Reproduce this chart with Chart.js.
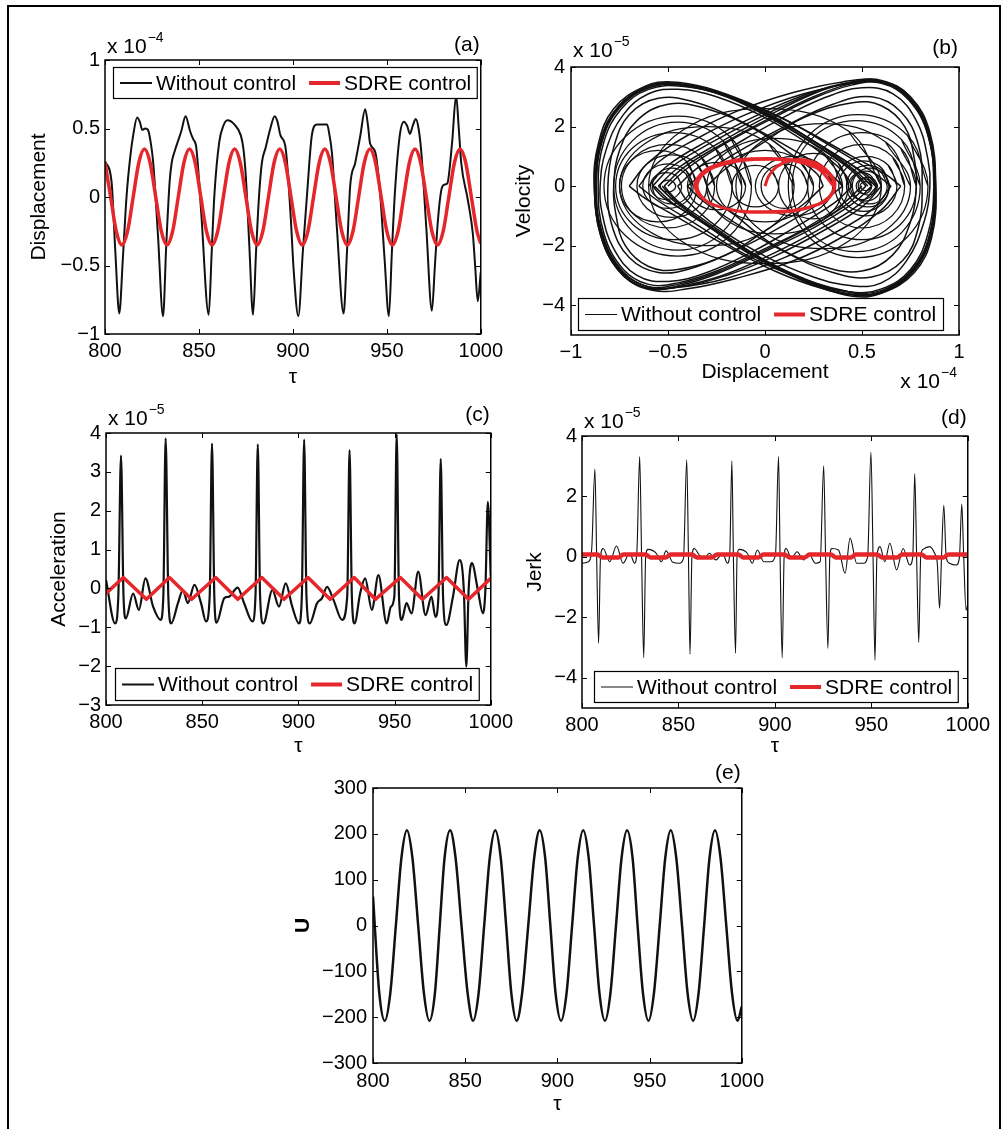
<!DOCTYPE html>
<html><head><meta charset="utf-8">
<script src="https://cdn.jsdelivr.net/npm/chart.js@4.4.1/dist/chart.umd.min.js"></script>
<style>
html,body{margin:0;padding:0;background:#fff;}
body{width:1004px;height:1129px;position:relative;overflow:hidden;}
#frame{position:absolute;left:7px;top:5px;width:990px;height:1200px;border:2px solid #000;border-bottom:none;}
canvas{position:absolute;}
</style></head><body>
<div id="frame"></div>
<canvas id="ca" width="488" height="360" style="left:20px;top:30px"></canvas>
<canvas id="cb" width="490" height="365" style="left:500px;top:30px"></canvas>
<canvas id="cc" width="498" height="375" style="left:20px;top:385px"></canvas>
<canvas id="cd" width="495" height="375" style="left:500px;top:385px"></canvas>
<canvas id="ce" width="490" height="375" style="left:280px;top:750px"></canvas>
<script>
// ---------------- DATA ----------------
const seriesNames = ['Without control', 'SDRE control'];
const tauTicks = [800, 850, 900, 950, 1000];
const aYTicks = [-1, -0.5, 0, 0.5, 1];
const bXTicks = [-1, -0.5, 0, 0.5, 1];
const bYTicks = [-4, -2, 0, 2, 4];
const cYTicks = [-3, -2, -1, 0, 1, 2, 3, 4];
const dYTicks = [-4, -2, 0, 2, 4];
const eYTicks = [-300, -200, -100, 0, 100, 200, 300];

// (a) displacement (x 1e-4) vs tau
const aWithout = [[800,0.26],[803.5,0.11],[805.5,-0.4],[807.6,-0.85],[809.5,-0.45],[811.5,0.01],[813.5,0.3],[815,0.45],[817.1,0.58],[818.5,0.55],[819.9,0.49],[821.5,0.5],[822.9,0.49],[824.3,0.4],[825.6,0.26],[828.2,-0.28],[830.9,-0.87],[832.6,-0.35],[834.4,0.11],[835.5,0.25],[837,0.33],[840.6,0.48],[842.9,0.59],[845.3,0.48],[847,0.42],[848.5,0.37],[851.2,-0.11],[855.2,-0.86],[856.8,-0.4],[858.2,0.01],[860.8,0.4],[863,0.52],[865.2,0.56],[868.8,0.53],[872.3,0.45],[873.7,0.35],[875,0.14],[876.8,-0.35],[878.8,-0.86],[880.4,-0.4],[882,0.01],[883.5,0.25],[885.5,0.36],[888,0.5],[890.3,0.59],[891.8,0.55],[893.4,0.45],[896.1,0.36],[898.7,-0.11],[900.5,-0.55],[902.9,-0.87],[905.3,-0.4],[907.6,0.03],[910.2,0.46],[912.9,0.53],[915.5,0.53],[918.2,0.53],[919.5,0.45],[920.8,0.32],[923.4,-0.22],[927,-0.85],[928.8,-0.4],[930.5,0.08],[933.2,0.25],[935.8,0.44],[938.5,0.64],[940,0.52],[941.1,0.39],[943.8,0.33],[946.4,0.03],[948.8,-0.45],[951.1,-0.87],[952.7,-0.4],[954.3,0.03],[957,0.46],[959.1,0.55],[960.8,0.52],[962.3,0.46],[963.8,0.52],[965.4,0.57],[966.9,0.5],[968.4,0.32],[971,-0.22],[974,-0.83],[975.6,-0.5],[977.2,-0.17],[979,0.05],[980.6,0.09],[982.2,0.1],[984.7,0.39],[986.9,0.74],[988.3,0.5],[989.6,0.25],[993.1,-0.02],[995.8,-0.27],[997,-0.5],[998.4,-0.76],[1000,-0.55]];
const aSdre = [[800,0.25],[803,0],[806,-0.25],[809,-0.35],[812,-0.25],[815,0],[818,0.25],[821,0.35],[824,0.25],[827,0],[830,-0.25],[833,-0.35],[836,-0.25],[839,0],[842,0.25],[845,0.35],[848,0.25],[851,0],[854,-0.25],[857,-0.35],[860,-0.25],[863,0],[866,0.25],[869,0.35],[872,0.25],[875,0],[878,-0.25],[881,-0.35],[884,-0.25],[887,0],[890,0.25],[893,0.35],[896,0.25],[899,0],[902,-0.25],[905,-0.35],[908,-0.25],[911,0],[914,0.25],[917,0.35],[920,0.25],[923,0],[926,-0.25],[929,-0.35],[932,-0.25],[935,0],[938,0.25],[941,0.35],[944,0.25],[947,0],[950,-0.25],[953,-0.35],[956,-0.25],[959,0],[962,0.25],[965,0.35],[968,0.25],[971,0],[974,-0.25],[977,-0.35],[980,-0.25],[983,0],[986,0.25],[989,0.35],[992,0.25],[995,0],[998,-0.25],[1000,-0.34]];

// (b) phase portrait: displacement (x 1e-4), velocity (x 1e-5)
const bLeftLobes = [
 [[0.55,0],[0.45,-0.6],[0.25,-1.4],[0,-2.2],[-0.25,-2.95],[-0.45,-3.35],[-0.6,-3.45],[-0.74,-2.9],[-0.84,-1.7],[-0.88,0],[-0.85,1.5],[-0.76,2.65],[-0.6,3.35],[-0.45,3.45],[-0.25,3.15],[0,2.5],[0.25,1.5],[0.45,0.6],[0.55,0]],
 [[0.5,0],[0.4,-0.6],[0.2,-1.45],[0,-2.1],[-0.25,-2.85],[-0.45,-3.25],[-0.6,-3.3],[-0.73,-2.8],[-0.83,-1.6],[-0.86,0],[-0.83,1.5],[-0.74,2.6],[-0.6,3.25],[-0.43,3.35],[-0.2,3.0],[0.05,2.2],[0.3,1.2],[0.45,0.5],[0.52,0]],
 [[0.6,0],[0.5,-0.7],[0.3,-1.5],[0.05,-2.35],[-0.2,-3.0],[-0.45,-3.4],[-0.62,-3.35],[-0.76,-2.7],[-0.85,-1.4],[-0.87,0],[-0.84,1.6],[-0.74,2.75],[-0.58,3.4],[-0.4,3.35],[-0.15,2.9],[0.1,2.1],[0.35,1.1],[0.52,0.4],[0.58,0]],
 [[0.4,0],[0.3,-0.5],[0.1,-1.3],[-0.1,-2.0],[-0.35,-2.7],[-0.55,-2.9],[-0.7,-2.4],[-0.79,-1.3],[-0.81,0],[-0.78,1.3],[-0.7,2.4],[-0.55,2.95],[-0.35,2.8],[-0.1,2.1],[0.15,1.2],[0.32,0.5],[0.4,0]],
 [[0.7,0],[0.6,-0.8],[0.4,-1.7],[0.15,-2.5],[-0.15,-3.1],[-0.4,-3.45],[-0.58,-3.5],[-0.73,-3.0],[-0.84,-1.8],[-0.88,0],[-0.86,1.4],[-0.78,2.6],[-0.62,3.35],[-0.48,3.5],[-0.3,3.3],[-0.05,2.7],[0.2,1.9],[0.45,1.0],[0.62,0.4],[0.7,0]],
 [[0.45,0],[0.35,-0.6],[0.15,-1.4],[-0.05,-2.15],[-0.3,-2.9],[-0.5,-3.2],[-0.66,-3.0],[-0.78,-2.1],[-0.84,-0.9],[-0.85,0],[-0.82,1.2],[-0.73,2.4],[-0.6,3.1],[-0.45,3.25],[-0.25,3.0],[0,2.3],[0.25,1.3],[0.4,0.5],[0.45,0]],
 [[0.65,0],[0.55,-0.8],[0.35,-1.6],[0.1,-2.4],[-0.2,-3.1],[-0.45,-3.4],[-0.62,-3.4],[-0.76,-2.8],[-0.85,-1.5],[-0.87,0],[-0.84,1.5],[-0.75,2.7],[-0.6,3.3],[-0.43,3.4],[-0.2,3.05],[0.1,2.25],[0.35,1.3],[0.55,0.5],[0.65,0]],
 [[0.3,0],[0.2,-0.6],[0,-1.5],[-0.2,-2.3],[-0.45,-2.8],[-0.6,-2.7],[-0.72,-2.0],[-0.77,-0.9],[-0.78,0],[-0.75,1.2],[-0.66,2.2],[-0.5,2.75],[-0.3,2.6],[-0.05,1.9],[0.15,1.0],[0.27,0.4],[0.3,0]],
 [[0.58,0],[0.48,-0.65],[0.28,-1.45],[0.03,-2.3],[-0.22,-3.0],[-0.45,-3.38],[-0.61,-3.42],[-0.75,-2.85],[-0.85,-1.6],[-0.875,0],[-0.845,1.55],[-0.75,2.7],[-0.59,3.38],[-0.44,3.42],[-0.22,3.1],[0.03,2.35],[0.28,1.4],[0.48,0.55],[0.57,0]],
 [[0.52,0],[0.42,-0.62],[0.22,-1.42],[0,-2.15],[-0.25,-2.9],[-0.45,-3.3],[-0.6,-3.38],[-0.735,-2.85],[-0.835,-1.65],[-0.87,0],[-0.84,1.52],[-0.75,2.62],[-0.6,3.3],[-0.44,3.4],[-0.22,3.08],[0.02,2.35],[0.27,1.35],[0.45,0.55],[0.53,0]]
];
const bRightLobes = [
 [[-0.55,0],[-0.45,0.6],[-0.25,1.4],[0,2.3],[0.25,3.1],[0.45,3.5],[0.6,3.55],[0.75,3.0],[0.85,1.8],[0.88,0],[0.86,-1.7],[0.77,-2.9],[0.6,-3.6],[0.45,-3.7],[0.25,-3.3],[0,-2.55],[-0.25,-1.5],[-0.45,-0.6],[-0.55,0]],
 [[-0.5,0],[-0.4,0.6],[-0.2,1.45],[0,2.15],[0.25,2.95],[0.45,3.4],[0.6,3.45],[0.74,2.9],[0.84,1.7],[0.87,0],[0.85,-1.6],[0.76,-2.8],[0.6,-3.5],[0.43,-3.55],[0.2,-3.1],[-0.05,-2.3],[-0.3,-1.2],[-0.45,-0.5],[-0.52,0]],
 [[-0.6,0],[-0.5,0.7],[-0.3,1.5],[-0.05,2.35],[0.2,3.05],[0.45,3.5],[0.62,3.45],[0.76,2.8],[0.85,1.5],[0.87,0],[0.85,-1.7],[0.76,-2.9],[0.58,-3.6],[0.4,-3.5],[0.15,-3.0],[-0.1,-2.2],[-0.35,-1.1],[-0.52,-0.4],[-0.58,0]],
 [[-0.4,0],[-0.3,0.5],[-0.1,1.3],[0.1,2.0],[0.35,2.75],[0.55,3.0],[0.7,2.5],[0.79,1.4],[0.81,0],[0.79,-1.4],[0.71,-2.5],[0.55,-3.05],[0.35,-2.9],[0.1,-2.2],[-0.15,-1.25],[-0.32,-0.5],[-0.4,0]],
 [[-0.7,0],[-0.6,0.8],[-0.4,1.7],[-0.15,2.5],[0.15,3.15],[0.4,3.5],[0.58,3.55],[0.73,3.05],[0.84,1.9],[0.88,0],[0.86,-1.5],[0.78,-2.7],[0.62,-3.5],[0.48,-3.65],[0.3,-3.45],[0.05,-2.85],[-0.2,-2.0],[-0.45,-1.05],[-0.62,-0.4],[-0.7,0]],
 [[-0.45,0],[-0.35,0.6],[-0.15,1.4],[0.05,2.15],[0.3,2.95],[0.5,3.3],[0.66,3.1],[0.78,2.2],[0.84,0.9],[0.85,0],[0.82,-1.2],[0.73,-2.5],[0.6,-3.25],[0.45,-3.35],[0.25,-3.05],[0,-2.35],[-0.25,-1.35],[-0.4,-0.5],[-0.45,0]],
 [[-0.65,0],[-0.55,0.8],[-0.35,1.6],[-0.1,2.4],[0.2,3.1],[0.45,3.45],[0.62,3.45],[0.76,2.85],[0.85,1.5],[0.87,0],[0.84,-1.6],[0.75,-2.8],[0.6,-3.45],[0.43,-3.55],[0.2,-3.15],[-0.1,-2.3],[-0.35,-1.3],[-0.55,-0.5],[-0.65,0]],
 [[-0.3,0],[-0.2,0.6],[0,1.5],[0.2,2.3],[0.45,2.8],[0.6,2.7],[0.72,2.0],[0.77,0.9],[0.78,0],[0.75,-1.2],[0.66,-2.3],[0.5,-2.85],[0.3,-2.7],[0.05,-2.0],[-0.15,-1.0],[-0.27,-0.4],[-0.3,0]],
 [[-0.58,0],[-0.48,0.65],[-0.28,1.45],[-0.03,2.3],[0.22,3.05],[0.45,3.5],[0.6,3.52],[0.75,2.95],[0.85,1.65],[0.875,0],[0.85,-1.6],[0.76,-2.8],[0.6,-3.55],[0.44,-3.62],[0.22,-3.2],[-0.03,-2.4],[-0.28,-1.4],[-0.48,-0.55],[-0.57,0]],
 [[-0.52,0],[-0.42,0.62],[-0.22,1.42],[0,2.2],[0.25,3.0],[0.45,3.45],[0.6,3.5],[0.745,2.95],[0.845,1.7],[0.875,0],[0.855,-1.65],[0.765,-2.85],[0.6,-3.58],[0.44,-3.65],[0.22,-3.25],[-0.02,-2.45],[-0.27,-1.4],[-0.45,-0.55],[-0.53,0]]
];
const bLeftWell = [
 [[-0.46,0],[-0.472,0.14],[-0.5,0.2],[-0.528,0.14],[-0.54,0],[-0.528,-0.14],[-0.5,-0.2],[-0.472,-0.14]],
 [[-0.43,0],[-0.453,0.32],[-0.51,0.45],[-0.567,0.32],[-0.59,0],[-0.567,-0.32],[-0.51,-0.45],[-0.453,-0.32]],
 [[-0.38,0],[-0.409,0.42],[-0.48,0.6],[-0.551,0.42],[-0.58,0],[-0.551,-0.42],[-0.48,-0.6],[-0.409,-0.42]],
 [[-0.37,0],[-0.408,0.53],[-0.5,0.75],[-0.592,0.53],[-0.63,0],[-0.592,-0.53],[-0.5,-0.75],[-0.408,-0.53]],
 [[-0.3,0],[-0.352,0.75],[-0.48,1.05],[-0.608,0.75],[-0.66,0],[-0.608,-0.75],[-0.48,-1.05],[-0.352,-0.75]],
 [[-0.26,0],[-0.33,0.99],[-0.5,1.4],[-0.67,0.99],[-0.74,0],[-0.67,-0.99],[-0.5,-1.4],[-0.33,-0.99]],
 [[-0.17,0],[-0.257,1.28],[-0.47,1.8],[-0.683,1.28],[-0.77,0],[-0.683,-1.28],[-0.47,-1.8],[-0.257,-1.28]],
 [[-0.12,0],[-0.216,1.52],[-0.45,2.15],[-0.684,1.52],[-0.78,0],[-0.684,-1.52],[-0.45,-2.15],[-0.216,-1.52]],
 [[-0.07,0],[-0.18,1.66],[-0.45,2.35],[-0.72,1.66],[-0.83,0],[-0.72,-1.66],[-0.45,-2.35],[-0.18,-1.66]],
 [[-0.35,0],[-0.408,0.85],[-0.55,1.2],[-0.692,0.85],[-0.75,0],[-0.692,-0.85],[-0.55,-1.2],[-0.408,-0.85]]
];
const bRightWell = [
 [[0.55,0],[0.541,0.106],[0.52,0.15],[0.499,0.106],[0.49,0],[0.499,-0.106],[0.52,-0.15],[0.541,-0.106]],
 [[0.55,0],[0.538,0.18],[0.51,0.25],[0.482,0.18],[0.47,0],[0.482,-0.18],[0.51,-0.25],[0.538,-0.18]],
 [[0.58,0],[0.565,0.21],[0.53,0.3],[0.495,0.21],[0.48,0],[0.495,-0.21],[0.53,-0.3],[0.565,-0.21]],
 [[0.57,0],[0.55,0.32],[0.5,0.45],[0.45,0.32],[0.43,0],[0.45,-0.32],[0.5,-0.45],[0.55,-0.32]],
 [[0.6,0],[0.577,0.35],[0.52,0.5],[0.463,0.35],[0.44,0],[0.463,-0.35],[0.52,-0.5],[0.577,-0.35]],
 [[0.63,0],[0.604,0.42],[0.54,0.6],[0.476,0.42],[0.45,0],[0.476,-0.42],[0.54,-0.6],[0.604,-0.42]],
 [[0.64,0],[0.608,0.5],[0.53,0.7],[0.452,0.5],[0.42,0],[0.452,-0.5],[0.53,-0.7],[0.608,-0.5]],
 [[0.64,0],[0.602,0.6],[0.51,0.85],[0.418,0.6],[0.38,0],[0.418,-0.6],[0.51,-0.85],[0.602,-0.6]],
 [[0.68,0],[0.634,0.71],[0.52,1.0],[0.406,0.71],[0.36,0],[0.406,-0.71],[0.52,-1.0],[0.634,-0.71]],
 [[0.72,0],[0.656,0.99],[0.5,1.4],[0.344,0.99],[0.28,0],[0.344,-0.99],[0.5,-1.4],[0.656,-0.99]],
 [[0.78,0],[0.699,1.28],[0.5,1.8],[0.301,1.28],[0.22,0],[0.301,-1.28],[0.5,-1.8],[0.699,-1.28]],
 [[0.8,0],[0.704,1.56],[0.47,2.2],[0.236,1.56],[0.14,0],[0.236,-1.56],[0.47,-2.2],[0.704,-1.56]],
 [[0.84,0],[0.735,1.7],[0.48,2.4],[0.225,1.7],[0.12,0],[0.225,-1.7],[0.48,-2.4],[0.735,-1.7]]
];
const bCentre = [
 [[0.07,0],[0.035,0.5],[-0.05,0.7],[-0.135,0.5],[-0.17,0],[-0.135,-0.5],[-0.05,-0.7],[0.035,-0.5]],
 [[0.22,0],[0.185,0.53],[0.1,0.75],[0.015,0.53],[-0.02,0],[0.015,-0.53],[0.1,-0.75],[0.185,-0.53]],
 [[0.25,0],[0.177,0.85],[0,1.2],[-0.177,0.85],[-0.25,0],[-0.177,-0.85],[0,-1.2],[0.177,-0.85]],
 [[0.35,0],[0.29,0.71],[0.15,1.0],[0.01,0.71],[-0.05,0],[0.01,-0.71],[0.15,-1.0],[0.29,-0.71]],
 [[-0.1,0],[-0.144,0.57],[-0.25,0.8],[-0.356,0.57],[-0.4,0],[-0.356,-0.57],[-0.25,-0.8],[-0.144,-0.57]],
 [[0.43,0],[0.377,0.78],[0.25,1.1],[0.123,0.78],[0.07,0],[0.123,-0.78],[0.25,-1.1],[0.377,-0.78]],
 [[0.4,0],[0.3,1.13],[0.05,1.6],[-0.2,1.13],[-0.3,0],[-0.2,-1.13],[0.05,-1.6],[0.3,-1.13]],
 [[0.15,0],[0.02,1.42],[-0.3,2.0],[-0.62,1.42],[-0.75,0],[-0.62,-1.42],[-0.3,-2.0],[0.02,-1.42]],
 [[0.75,0],[0.62,1.49],[0.3,2.1],[-0.02,1.49],[-0.15,0],[-0.02,-1.49],[0.3,-2.1],[0.62,-1.49]],
 [[0.6,0],[0.43,1.85],[0,2.6],[-0.43,1.85],[-0.6,0],[-0.43,-1.85],[0,-2.6],[0.43,-1.85]]
];
const bSdre = [[0,0],[0.02,0.35],[0.06,0.65],[0.13,0.86],[0.22,0.86],[0.31,0.58],[0.36,0],[0.27,-0.62],[0.02,-0.88],[-0.26,-0.64],[-0.36,0],[-0.27,0.66],[0.02,0.93],[0.27,0.65],[0.36,0.02],[0.28,-0.6],[0,-0.86],[-0.27,-0.62],[-0.35,0.02],[-0.26,0.64],[0.03,0.9],[0.26,0.63],[0.355,0]];

// (c) acceleration (x 1e-5)
const cWithout = [[800,0.22],[804.7,-0.9],[806.4,-0.21],[807.8,3.42],[809.1,-0.2],[810.3,-0.77],[814.1,-0.13],[817.1,-0.55],[820.5,0.26],[824.5,-0.47],[828.4,-0.81],[829.8,-0.2],[831,3.86],[832.4,-0.2],[833.9,-0.9],[837.4,-0.38],[840,-0.04],[842.5,-0.38],[846,0.09],[849.4,-0.38],[852,-0.85],[853.9,-0.2],[855.1,3.73],[856.3,-0.2],[857.5,-0.88],[861.5,-0.25],[864.1,-0.21],[868.4,0.02],[871.8,-0.38],[876.1,-0.85],[877.7,-0.2],[878.9,3.71],[880.1,-0.2],[881.8,-0.9],[886.5,-0.04],[889.9,-0.47],[893.4,0.13],[896.8,-0.47],[900.3,-0.9],[901.8,-0.2],[903,3.83],[904.2,-0.2],[905.9,-0.9],[909.7,-0.38],[912.3,-0.25],[914.9,0.04],[918.3,-0.3],[922.7,-0.81],[925.4,-0.2],[926.6,3.56],[927.8,-0.2],[929.2,-0.9],[932.1,-0.13],[934.7,0.26],[938.2,-0.55],[941.6,0.34],[945.9,-0.9],[948.1,-0.47],[949.9,-0.2],[951.1,3.97],[952.3,-0.2],[953.7,-0.81],[956.2,-0.38],[958.8,-0.64],[962.3,0.43],[966.1,-0.69],[969.2,-0.21],[971.2,-0.73],[972.8,-0.2],[974,3.33],[975.2,-0.2],[976.9,-0.94],[980.4,-0.2],[983.8,0.73],[986,-0.04],[987.3,-2.01],[988.5,-0.04],[990.2,0.65],[993.3,-0.04],[995.9,-0.64],[997.2,-0.04],[998.5,2.23],[1000,0.3]];
const cSdre = [[800,-0.13],[809,0.28],[821,-0.28],[833,0.28],[844.5,-0.28],[857,0.28],[868.5,-0.28],[881,0.28],[892.5,-0.28],[905,0.28],[916.5,-0.28],[929,0.28],[940,-0.28],[953,0.28],[964.5,-0.28],[977,0.28],[988.5,-0.28],[1000,0.26]];

// (d) jerk (x 1e-5)
const dWithout = [[800,-0.21],[803.3,-0.16],[805,0.23],[806.7,2.91],[807.6,0],[808.6,-2.86],[809.6,0],[811,0.28],[814.4,-0.16],[817.9,0.36],[821.3,-0.21],[824.7,0.12],[827.3,-0.21],[828.5,0.23],[829.9,3.32],[830.9,0],[832,-3.34],[833,0],[834.2,0.25],[838.5,0.12],[841.1,-0.16],[843.6,0.2],[847.1,-0.18],[850.5,-0.21],[852.6,-0.05],[854.3,3.21],[855.2,0],[856,-3.22],[857,0],[858.2,0.28],[860.8,0.06],[863.4,-0.05],[866,0.12],[869.4,-0.1],[872.9,0.12],[875.4,-0.21],[876.6,0.1],[877.7,3.18],[878.5,0],[879.6,-3.19],[880.4,0],[881.4,0.25],[885.7,0.12],[888.3,-0.21],[890.9,0.23],[894.3,-0.16],[897.8,-0.16],[900.3,0.06],[901.9,3.32],[902.7,0],[903.8,-3.34],[904.8,0],[905.8,0.28],[908.6,-0.05],[911.5,0.17],[914.9,-0.1],[917.5,0.12],[921,-0.21],[923.5,-0.16],[925.3,3.01],[926.3,0],[927.5,-3.03],[928.5,0],[929.6,0.28],[933,0.23],[936.4,-0.54],[939,0.62],[942.4,-0.21],[945.9,-0.21],[948.1,0],[949.8,3.46],[950.9,0],[951.9,-3.42],[952.9,0],[954.5,0.34],[957,-0.16],[959.6,0.45],[963.1,-0.43],[966.5,0.28],[969.9,-0.27],[971.5,0],[972.5,2.76],[973.5,0],[974.6,-2.83],[975.6,0],[976.8,0.25],[980.2,0.34],[982.8,0.12],[984.2,-0.21],[985.4,-1.7],[986.4,0],[987.6,1.71],[988.8,0],[990.5,-0.21],[994,-0.27],[995.7,0],[996.9,1.75],[997.9,0],[999.1,-1.76],[1000,-1.55]];
const dSdre = [[800,0.08],[808,0.08],[810.5,-0.02],[819,-0.02],[821.5,0.08],[833,0.08],[835.5,-0.02],[843.5,-0.02],[846,0.08],[857,0.08],[859.5,-0.02],[867.5,-0.02],[870,0.08],[881,0.08],[883.5,-0.02],[891.5,-0.02],[894,0.08],[905,0.08],[907.5,-0.02],[915.5,-0.02],[918,0.08],[929,0.08],[931.5,-0.02],[939.5,-0.02],[942,0.08],[953,0.08],[955.5,-0.02],[963.5,-0.02],[966,0.08],[976,0.08],[978.5,-0.02],[987.5,-0.02],[990,0.08],[1000,0.08]];

// (e) control input U
const eU = [[800,63],[803.4,-147],[806.4,-208],[809.4,-147],[812.4,0],[815.4,147],[818.4,208],[821.4,147],[824.5,0],[827.6,-147],[830.6,-208],[833.6,-147],[836.2,0],[838.8,147],[841.8,208],[844.8,147],[848,0],[851.3,-147],[854.3,-208],[857.3,-147],[860.3,0],[863.3,147],[866.3,208],[869.3,147],[872.2,0],[875,-147],[877.9,-208],[880.9,-147],[884.2,0],[887.4,147],[890.4,208],[893.4,147],[896.2,0],[899,-147],[902,-208],[905,-147],[908,0],[911,147],[914,208],[917,147],[919.9,0],[922.8,-147],[925.8,-208],[928.8,-147],[931.8,0],[934.8,147],[937.8,208],[940.8,147],[943.5,0],[946.4,-147],[949.4,-208],[952.4,-147],[955.5,0],[958.5,147],[961.5,208],[964.5,147],[967.6,0],[970.6,-147],[973.6,-208],[976.6,-147],[979.6,0],[982.5,147],[985.5,208],[988.5,147],[991.6,0],[994.7,-147],[997.7,-208],[1000,-177]];

// ---------------- RENDERING ----------------
const FAM = '"Liberation Sans", Arial, Helvetica, sans-serif';
Chart.defaults.font.family = FAM;
Chart.defaults.color = '#000';
const BLACK = '#111', RED = '#e5262b';

function fmt(v){ const s = String(Math.abs(Math.round(v*1000)/1000)); return v < 0 ? '\u2212' + s : s; }
const xy = arr => arr.map(p => ({x: p[0], y: p[1]}));
const closed = p => p.concat([p[0], p[1]]);

function drawExp(ctx, x, y, exp, align){
  ctx.font = '21px ' + FAM; ctx.textAlign = 'left'; ctx.textBaseline = 'alphabetic';
  const w = ctx.measureText('x 10').width;
  ctx.font = '14px ' + FAM;
  const we = ctx.measureText(exp).width;
  if (align === 'right') x = x - w - 1 - we;
  ctx.font = '21px ' + FAM; ctx.fillText('x 10', x, y);
  ctx.font = '14px ' + FAM; ctx.fillText(exp, x + w + 1, y - 11);
}

function drawLegend(chart, L){
  const ctx = chart.ctx, a = chart.chartArea;
  const left = a.left + L.dl, right = a.right - L.dr, h = L.h;
  const top = L.vpos === 'top' ? a.top + L.d : a.bottom - L.d - h;
  ctx.save();
  ctx.fillStyle = '#fff'; ctx.fillRect(left, top, right - left, h);
  ctx.strokeStyle = '#000'; ctx.lineWidth = 1.2; ctx.strokeRect(left + 0.5, top + 0.5, right - left, h);
  ctx.font = '21px ' + FAM; ctx.textBaseline = 'middle'; ctx.textAlign = 'left';
  const cy = top + h / 2 + 0.5;
  let x = left + 7;
  ctx.lineCap = 'butt';
  ctx.strokeStyle = BLACK; ctx.lineWidth = L.bw;
  ctx.beginPath(); ctx.moveTo(x, cy); ctx.lineTo(x + 32, cy); ctx.stroke();
  x += 36; ctx.fillStyle = '#000'; ctx.fillText(seriesNames[0], x, cy + 1);
  x += ctx.measureText(seriesNames[0]).width + 13;
  ctx.strokeStyle = RED; ctx.lineWidth = 4;
  ctx.beginPath(); ctx.moveTo(x, cy); ctx.lineTo(x + 31, cy); ctx.stroke();
  x += 35; ctx.fillText(seriesNames[1], x, cy + 1);
  ctx.restore();
}

const matPlugin = {
  id: 'mat',
  afterDatasetsDraw(chart, args, o){
    const ctx = chart.ctx, a = chart.chartArea, sx = chart.scales.x, sy = chart.scales.y;
    ctx.save();
    ctx.strokeStyle = '#000'; ctx.lineWidth = 1.5;
    ctx.strokeRect(a.left, a.top, a.right - a.left, a.bottom - a.top);
    ctx.lineWidth = 1; ctx.beginPath();
    const L = 5;
    sx.ticks.forEach(t => { const p = Math.round(sx.getPixelForValue(t.value)) + 0.5;
      ctx.moveTo(p, a.bottom); ctx.lineTo(p, a.bottom - L); ctx.moveTo(p, a.top); ctx.lineTo(p, a.top + L); });
    sy.ticks.forEach(t => { const p = Math.round(sy.getPixelForValue(t.value)) + 0.5;
      ctx.moveTo(a.left, p); ctx.lineTo(a.left + L, p); ctx.moveTo(a.right, p); ctx.lineTo(a.right - L, p); });
    ctx.stroke();
    ctx.restore();
  },
  afterDraw(chart, args, o){
    const ctx = chart.ctx, a = chart.chartArea;
    ctx.save(); ctx.fillStyle = '#000';
    if (o.exp) drawExp(ctx, a.left + 2, a.top - o.ey, o.exp, 'left');
    if (o.bexp) drawExp(ctx, a.right - 2, a.bottom + 53, o.bexp, 'right');
    if (o.label){ ctx.font = '21px ' + FAM; ctx.textAlign = 'right'; ctx.textBaseline = 'alphabetic'; ctx.fillText(o.label, a.right - 1, a.top - o.ly); }
    if (o.legend) drawLegend(chart, o.legend);
    ctx.restore();
  }
};
Chart.register(matPlugin);

function panel(id, c){
  const scales = {
    x: { type: 'linear', min: c.xr[0], max: c.xr[1],
      afterBuildTicks: s => { s.ticks = c.xt.map(v => ({value: v})); },
      afterFit: s => { s.height = c.xh; },
      grid: {display: false, drawTicks: false}, border: {display: false},
      ticks: {autoSkip: false, maxRotation: 0, minRotation: 0, padding: c.xpad, font: {size: 20}, color: '#000', callback: v => fmt(v)},
      title: {display: true, text: c.xtitle, font: {size: 21}, color: '#000', padding: {top: 0, bottom: c.xtb}} },
    y: { type: 'linear', min: c.yr[0], max: c.yr[1],
      afterBuildTicks: s => { s.ticks = c.yt.map(v => ({value: v})); },
      afterFit: s => { s.width = c.yw; },
      grid: {display: false, drawTicks: false}, border: {display: false},
      ticks: {autoSkip: false, padding: c.ypad, font: {size: 20}, color: '#000', callback: v => fmt(v)},
      title: {display: true, text: c.ytitle, font: {size: 21, weight: c.ybold ? 'bold' : 'normal'}, color: '#000', padding: {top: c.ytp, bottom: 0}} }
  };
  return new Chart(document.getElementById(id), {
    type: c.type || 'line',
    data: {datasets: c.ds},
    options: {
      responsive: false, animation: false, devicePixelRatio: 1, events: [],
      layout: {padding: {left: 0, top: c.pt, right: c.pr, bottom: 0}},
      plugins: {legend: {display: false}, tooltip: {enabled: false}, mat: c.mat},
      scales
    }
  });
}

const line = (data, color, w, mode) => ({data: xy(data), borderColor: color, borderWidth: w, pointRadius: 0, fill: false,
  cubicInterpolationMode: mode === 'lin' ? 'default' : 'monotone', tension: 0, borderJoinStyle: 'round'});

// (a)
panel('ca', {xr: [800, 1000], yr: [-1, 1], xt: tauTicks, yt: aYTicks, xh: 56, yw: 85, pt: 30, pr: 25,
  xpad: 5, ypad: 5, xtb: 0, ytp: 7, xtitle: '\u03c4', ytitle: 'Displacement',
  ds: [line(aSdre, RED, 3.5), line(aWithout, BLACK, 2)],
  mat: {exp: '\u22124', ey: 7, label: '(a)', ly: 9, legend: {vpos: 'top', dl: 8, dr: 4, d: 7, h: 31, bw: 2}}});

// (b)
const bDs = [];
bDs.push({data: xy(bSdre), showLine: true, borderColor: RED, borderWidth: 3, pointRadius: 0, tension: 0.4});
bLeftLobes.concat(bRightLobes).forEach(p => bDs.push({data: xy(p), showLine: true, borderColor: BLACK, borderWidth: 1.5, pointRadius: 0, tension: 0.4}));
bLeftWell.concat(bRightWell, bCentre).forEach(p => bDs.push({data: xy(closed(p)), showLine: true, borderColor: BLACK, borderWidth: 1.25, pointRadius: 0, tension: 0.4}));
panel('cb', {type: 'scatter', xr: [-1, 1], yr: [-5, 4], xt: bXTicks, yt: bYTicks, xh: 60, yw: 71, pt: 37, pr: 31,
  xpad: 5, ypad: 6, xtb: 10, ytp: 12, xtitle: 'Displacement', ytitle: 'Velocity', ds: bDs,
  mat: {exp: '\u22125', ey: 10, bexp: '\u22124', label: '(b)', ly: 13, legend: {vpos: 'bottom', dl: 7, dr: 16, d: 5, h: 32, bw: 1}}});

// (c)
panel('cc', {xr: [800, 1000], yr: [-3, 4], xt: tauTicks, yt: cYTicks, xh: 55, yw: 86, pt: 48, pr: 25,
  xpad: 5, ypad: 5, xtb: 1, ytp: 27, xtitle: '\u03c4', ytitle: 'Acceleration',
  ds: [line(cSdre, RED, 3.5, 'lin'), line(cWithout, BLACK, 2.2)],
  mat: {exp: '\u22125', ey: 8, label: '(c)', ly: 12, legend: {vpos: 'bottom', dl: 9, dr: 12, d: 5, h: 32, bw: 2}}});

// (d)
panel('cd', {xr: [800, 1000], yr: [-5, 4], xt: tauTicks, yt: dYTicks, xh: 52, yw: 82, pt: 51, pr: 25,
  xpad: 5, ypad: 5, xtb: 1, ytp: 23, xtitle: '\u03c4', ytitle: 'Jerk',
  ds: [line(dSdre, RED, 4.5), line(dWithout, BLACK, 1.1)],
  mat: {exp: '\u22125', ey: 8, label: '(d)', ly: 12, legend: {vpos: 'bottom', dl: 12, dr: 10, d: 6, h: 31, bw: 1}}});

// (e)
panel('ce', {xr: [800, 1000], yr: [-300, 300], xt: tauTicks, yt: eYTicks, xh: 62, yw: 93, pt: 38, pr: 24,
  xpad: 6, ypad: 6, xtb: 8, ytp: 11, xtitle: '\u03c4', ytitle: 'U', ybold: true,
  ds: [line(eU, BLACK, 2.5)],
  mat: {label: '(e)', ly: 9}});
</script>
</body></html>
